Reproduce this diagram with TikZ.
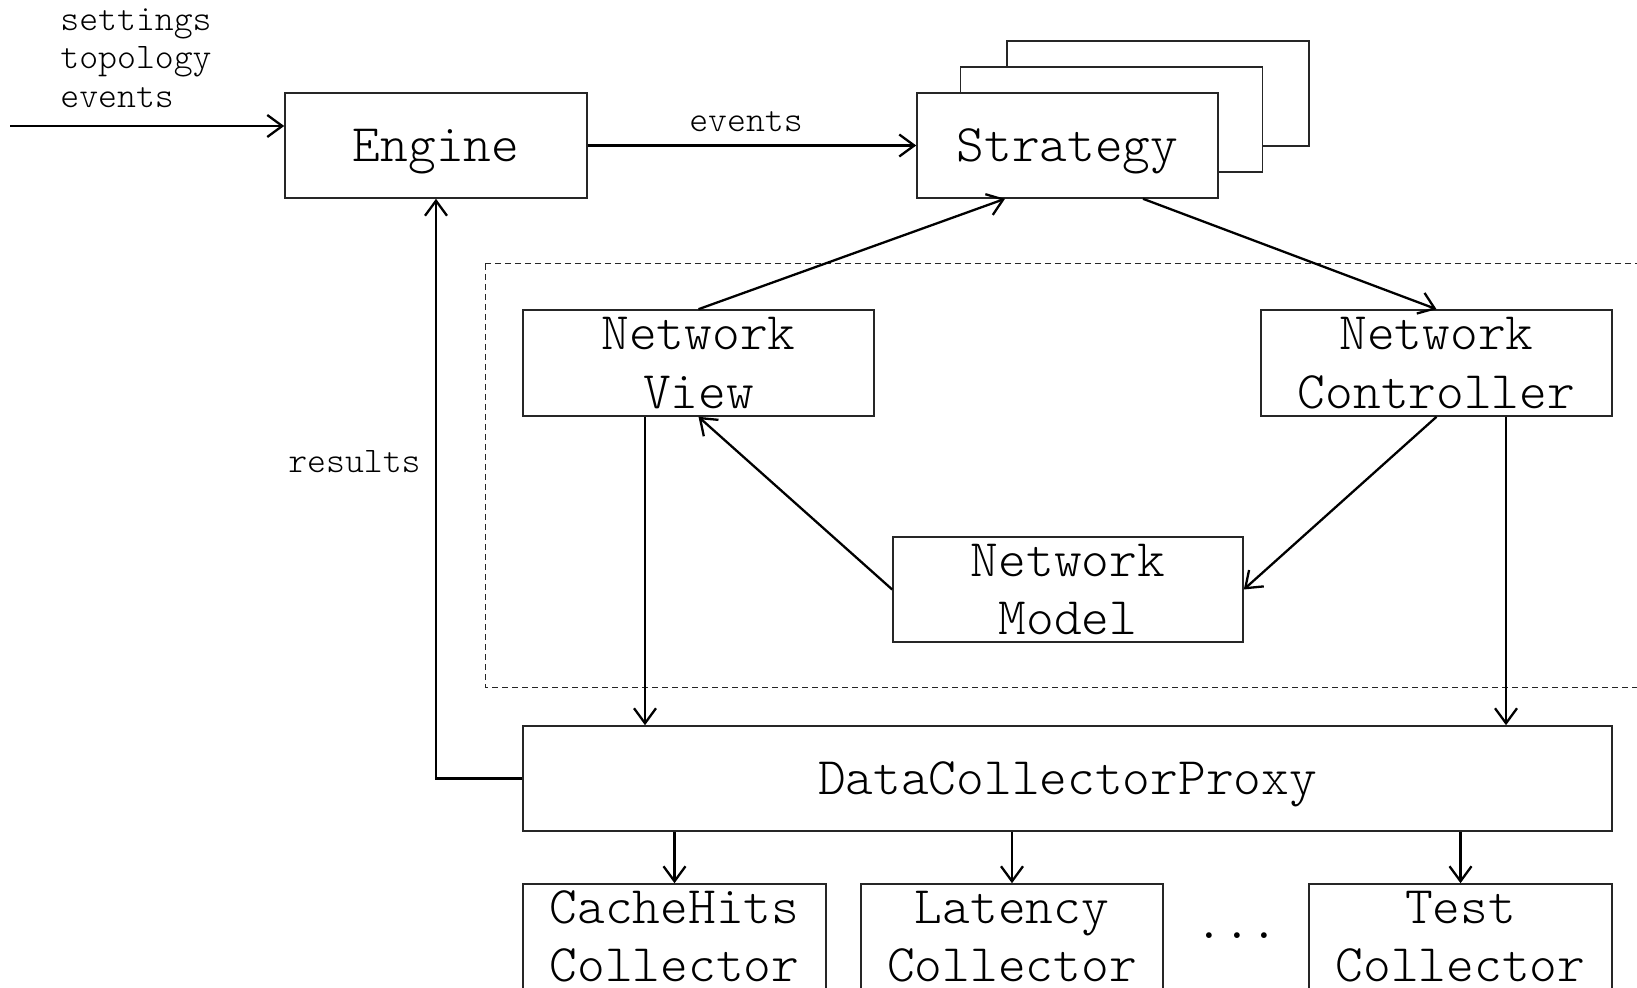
\documentclass[tikz,border=0pt]{standalone}
\usepackage{fontspec}
\newfontfamily\mono{Latin Modern Mono Light}
\usetikzlibrary{arrows.meta}
\newcommand\bigmono{\mono\fontsize{26.4}{29.2}\selectfont}
\newcommand\smallmono{\mono\fontsize{18}{19.3}\selectfont}
\begin{document}
\begin{tikzpicture}[x=0.5pt,y=-0.5pt,
  box/.style={draw=black!85, line width=0.8pt, fill=white, inner sep=0pt,
    align=center, font=\bigmono, minimum height=52.5pt},
  single/.style={text height=16pt, text depth=0pt},
  lbl/.style={inner sep=0pt, font=\smallmono},
  arr/.style={line width=1.15pt, -{Straight Barb[length=7.5pt,width=11pt]}},
  group/.style={draw=black!85, line width=0.5pt, dash pattern=on 3pt off 2pt}]
\useasboundingbox (0,0) rectangle (1637,988);
\clip (0,0) rectangle (1637,988);

% simulation layer
\draw[group] (485,264) rectangle (1720,687);

% inputs
\node[lbl, anchor=base west] (settings) at (60,30.5) {settings};
\node[lbl, anchor=base west] (topology) at (60,69) {topology};
\node[lbl, anchor=base west] (eventsin) at (60,107.5) {events};
\coordinate (input) at (10,126);

% main blocks
\node[box, single, minimum width=151pt] (engine) at (436,145.5) {Engine};
\node[box, minimum width=151pt] (strategy3) at (1158,93.5) {};
\node[box, minimum width=151pt] (strategy2) at (1111.5,119.5) {};
\node[box, single, minimum width=150.5pt] (strategy) at (1067.5,145.5) {Strategy};

\node[box, minimum width=175.5pt, minimum height=53pt] (nv) at (698.5,363) {Network\\View};
\node[box, minimum width=175.5pt, minimum height=53pt] (nc) at (1436.5,363) {Network\\Controller};
\node[box, minimum width=175pt] (nm) at (1068,589.5) {Network\\Model};

\node[box, single, minimum width=544.5pt] (dcp) at (1067.5,778.5) {DataCollectorProxy};

\node[box, minimum width=151.5pt] (cache) at (674.5,936.5) {CacheHits\\Collector};
\node[box, minimum width=151pt] (latency) at (1012,936.5) {Latency\\Collector};
\node[box, minimum width=151.5pt] (test) at (1460.5,936.5) {Test\\Collector};
\node[inner sep=0pt, font=\bigmono, anchor=base] (dots) at (1237,938) {...};

% connectors
\draw[arr] (input) -- (engine.west |- input);
\draw[arr] (engine.east) -- (strategy.west);
\node[lbl, anchor=base] (eventslbl) at (746,132) {events};

\draw[arr] (nv.north) -- ([xshift=-31.25pt]strategy.south);
\draw[arr] ([xshift=37.75pt]strategy.south) -- (nc.north);
\draw[arr] (nc.south) -- (nm.east);
\draw[arr] (nm.west) -- (nv.south);

\draw[arr] ([xshift=-26.75pt]nv.south) -- ([xshift=-26.75pt]nv.south |- dcp.north);
\draw[arr] ([xshift=34.75pt]nc.south) -- ([xshift=34.75pt]nc.south |- dcp.north);

\draw[arr] (cache.north |- dcp.south) -- (cache.north);
\draw[arr] (latency.north |- dcp.south) -- (latency.north);
\draw[arr] (test.north |- dcp.south) -- (test.north);

\draw[arr] (dcp.west) -| (engine.south);
\node[lbl, anchor=base east] (results) at (421,473) {results};
\end{tikzpicture}
\end{document}
